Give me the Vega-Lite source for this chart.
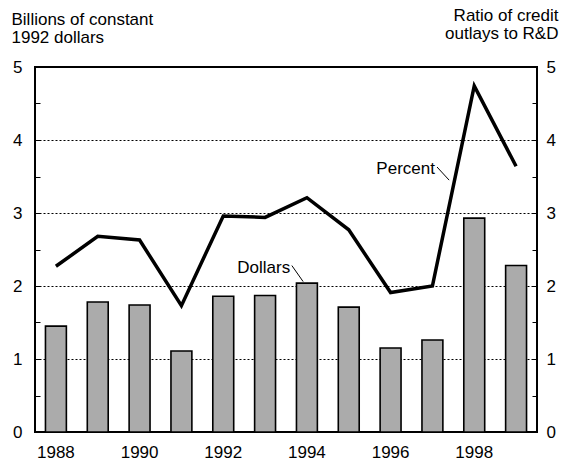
{
  "$schema": "https://vega.github.io/schema/vega-lite/v6.json",
  "width": 502,
  "height": 365,
  "autosize": "none",
  "padding": {"left": 35, "top": 67, "right": 24, "bottom": 29},
  "background": "white",
  "config": {
    "font": "Liberation Sans",
    "view": {"stroke": "black", "strokeWidth": 2},
    "axis": {"labelFont": "Liberation Sans", "titleFont": "Liberation Sans", "labelColor": "black", "titleColor": "black", "labelFontSize": 17, "titleFontSize": 17, "titleFontWeight": "normal", "domainColor": "black", "tickColor": "black"}
  },
  "layer": [
    {
      "data": {"values": [
        {"year": "1988", "dollars": 1.45},
        {"year": "1989", "dollars": 1.78},
        {"year": "1990", "dollars": 1.74},
        {"year": "1991", "dollars": 1.11},
        {"year": "1992", "dollars": 1.86},
        {"year": "1993", "dollars": 1.87},
        {"year": "1994", "dollars": 2.04},
        {"year": "1995", "dollars": 1.71},
        {"year": "1996", "dollars": 1.15},
        {"year": "1997", "dollars": 1.26},
        {"year": "1998", "dollars": 2.93},
        {"year": "1999", "dollars": 2.28}
      ]},
      "mark": {"type": "bar", "fill": "#ababab", "stroke": "black", "strokeWidth": 1.6},
      "encoding": {
        "x": {"field": "year", "type": "ordinal", "scale": {"paddingInner": 0.5, "paddingOuter": 0.25},
          "axis": {"title": null, "labelAngle": 0, "ticks": false, "domain": false, "labelPadding": 12, "labelBaseline": "top",
            "labelExpr": "(+datum.value) % 2 === 0 ? datum.label : ''"}},
        "y": {"field": "dollars", "type": "quantitative", "scale": {"domain": [0, 5], "nice": false},
          "axis": {"orient": "left", "values": [0, 0.5, 1, 1.5, 2, 2.5, 3, 3.5, 4, 4.5, 5],
            "labelExpr": "datum.value % 1 === 0 ? format(datum.value, 'd') : ''",
            "domain": false, "tickSize": -5, "tickWidth": 1, "labelPadding": 18,
            "grid": true, "gridColor": "black", "gridDash": [2, 2], "gridWidth": 1,
            "gridOpacity": {"condition": {"test": "datum.value % 1 === 0 && datum.value > 0 && datum.value < 5", "value": 1}, "value": 0},
            "title": ["Billions of constant", "1992 dollars"], "titleAngle": 0, "titleAlign": "left", "titleBaseline": "top",
            "titleX": -24, "titleY": -56, "titleLineHeight": 18}}
      }
    },
    {
      "data": {"values": [
        {"year": "1988", "percent": 2.27},
        {"year": "1989", "percent": 2.68},
        {"year": "1990", "percent": 2.63},
        {"year": "1991", "percent": 1.73},
        {"year": "1992", "percent": 2.96},
        {"year": "1993", "percent": 2.94},
        {"year": "1994", "percent": 3.21},
        {"year": "1995", "percent": 2.77},
        {"year": "1996", "percent": 1.91},
        {"year": "1997", "percent": 2.0},
        {"year": "1998", "percent": 4.74},
        {"year": "1999", "percent": 3.64}
      ]},
      "mark": {"type": "line", "color": "black", "strokeWidth": 3.5, "strokeJoin": "miter"},
      "encoding": {
        "x": {"field": "year", "type": "ordinal", "axis": null},
        "y": {"field": "percent", "type": "quantitative", "scale": {"domain": [0, 5], "nice": false},
          "axis": {"orient": "right", "values": [0, 0.5, 1, 1.5, 2, 2.5, 3, 3.5, 4, 4.5, 5],
            "labelExpr": "datum.value % 1 === 0 ? format(datum.value, 'd') : ''",
            "domain": false, "tickSize": -5, "tickWidth": 1, "labelPadding": 14, "grid": false,
            "title": ["Ratio of credit", "outlays to R&D"], "titleAngle": 0, "titleAlign": "right", "titleBaseline": "top",
            "titleX": 21, "titleY": -60, "titleLineHeight": 18}}
      }
    },
    {
      "data": {"values": [
        {"label": "Percent", "px": 9.56, "py": 3.6},
        {"label": "Dollars", "px": 6.10, "py": 2.24}
      ]},
      "mark": {"type": "text", "align": "right", "baseline": "middle", "fontSize": 17, "font": "Liberation Sans", "color": "black"},
      "encoding": {
        "x": {"field": "px", "type": "quantitative", "scale": {"domain": [0, 12], "nice": false, "zero": false}, "axis": null},
        "y": {"field": "py", "type": "quantitative", "scale": {"domain": [0, 5], "nice": false}, "axis": null},
        "text": {"field": "label"}
      }
    },
    {
      "data": {"values": [
        {"px": 9.61, "py": 3.63, "px2": 9.90, "py2": 3.45},
        {"px": 6.14, "py": 2.28, "px2": 6.41, "py2": 2.06}
      ]},
      "mark": {"type": "rule", "color": "black", "strokeWidth": 1},
      "encoding": {
        "x": {"field": "px", "type": "quantitative", "scale": {"domain": [0, 12], "nice": false, "zero": false}, "axis": null},
        "x2": {"field": "px2"},
        "y": {"field": "py", "type": "quantitative", "scale": {"domain": [0, 5], "nice": false}, "axis": null},
        "y2": {"field": "py2"}
      }
    }
  ],
  "resolve": {"scale": {"x": "independent", "y": "independent"}}
}
